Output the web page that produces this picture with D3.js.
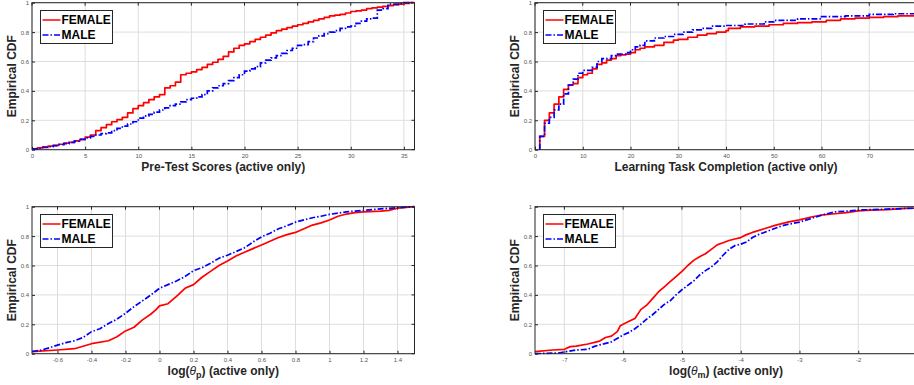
<!DOCTYPE html>
<html>
<head>
<meta charset="utf-8">
<script src="https://cdn.jsdelivr.net/npm/d3@7"></script>
<style>
  html, body { margin: 0; padding: 0; background: #fff; }
  svg { display: block; }
  text { font-family: "Liberation Sans", Arial, Helvetica, sans-serif; }
</style>
</head>
<body>
<svg id="chart" width="914" height="385"></svg>
<script>
// ---- Panel 1: Pre-Test Scores ----
const preTestX = [0,0.5,1,1.5,2,2.5,3,3.5,4,4.5,5,5.5,6,6.5,7,7.5,8,8.5,9,9.5,10,10.5,11,11.5,12,12.5,13,13.5,14,14.5,15,15.5,16,16.5,17,17.5,18,18.5,19,19.5,20,20.5,21,21.5,22,22.5,23,23.5,24,24.5,25,25.5,26,26.5,27,27.5,28,28.5,29,29.5,30,30.5,31,31.5,32,32.5,33,33.5,34,34.5,35,35.5,36];
const preTestFemale = [0.005,0.012,0.02,0.025,0.03,0.037,0.045,0.05,0.06,0.07,0.085,0.10,0.13,0.15,0.17,0.19,0.205,0.22,0.25,0.28,0.30,0.32,0.34,0.36,0.375,0.42,0.435,0.46,0.51,0.52,0.53,0.545,0.56,0.58,0.595,0.615,0.635,0.665,0.69,0.71,0.72,0.735,0.75,0.765,0.78,0.795,0.81,0.82,0.83,0.84,0.85,0.86,0.87,0.88,0.89,0.90,0.91,0.915,0.92,0.93,0.94,0.945,0.95,0.96,0.965,0.97,0.975,0.98,0.985,0.99,0.995,1.0,1.0];
const preTestMale = [0.005,0.01,0.015,0.02,0.028,0.035,0.042,0.05,0.058,0.07,0.08,0.09,0.10,0.11,0.115,0.13,0.145,0.16,0.175,0.19,0.215,0.23,0.24,0.255,0.27,0.285,0.30,0.31,0.325,0.34,0.35,0.36,0.375,0.40,0.42,0.435,0.45,0.47,0.49,0.51,0.535,0.55,0.565,0.59,0.61,0.625,0.64,0.655,0.675,0.69,0.71,0.715,0.735,0.76,0.775,0.79,0.80,0.81,0.825,0.835,0.84,0.86,0.875,0.89,0.895,0.95,0.96,0.99,0.99,0.995,1.0,1.0,1.0];

// ---- Panel 2: Learning Task Completion ----
const taskFemaleX = [1,1,2,3,4,5,6,7,8,9,10,11,12,13,14,15,16,17,18,19,20,21,22,23,25,27,29,30,32,34,36,38,40,40.5,43,46,49,52,55,58,61,64,67,70,73,76,80];
const taskFemale  = [0,0.09,0.20,0.25,0.31,0.36,0.41,0.44,0.45,0.49,0.51,0.52,0.55,0.58,0.59,0.61,0.62,0.64,0.645,0.65,0.66,0.68,0.69,0.70,0.71,0.73,0.745,0.75,0.765,0.78,0.79,0.80,0.81,0.825,0.835,0.84,0.85,0.86,0.865,0.87,0.88,0.89,0.895,0.90,0.905,0.91,0.91];
const taskMaleX = [1,1,2,3,4,5,6,7,8,9,10,12,13,14,16,17,19,20,21,22,23,25,27,29,31,33,35,37,40,44,48,50,55,60,65,70,75,80];
const taskMale  = [0,0.09,0.18,0.22,0.27,0.31,0.38,0.44,0.48,0.52,0.54,0.56,0.60,0.62,0.64,0.65,0.66,0.68,0.70,0.71,0.74,0.76,0.77,0.785,0.80,0.815,0.825,0.84,0.845,0.855,0.87,0.88,0.89,0.905,0.91,0.92,0.925,0.93];

// ---- Panel 3: log(theta_p) ----
const thetaPFemaleX = [-0.75,-0.6,-0.5,-0.4,-0.3,-0.25,-0.2,-0.15,-0.1,-0.05,-0.02,0,0.05,0.1,0.15,0.2,0.25,0.3,0.35,0.4,0.45,0.5,0.55,0.6,0.65,0.7,0.75,0.8,0.85,0.9,0.95,1.0,1.05,1.1,1.15,1.2,1.3,1.35,1.4,1.45,1.5];
const thetaPFemale  = [0.014,0.025,0.034,0.068,0.088,0.115,0.155,0.18,0.23,0.27,0.30,0.325,0.34,0.39,0.445,0.47,0.52,0.56,0.60,0.63,0.665,0.69,0.715,0.74,0.765,0.79,0.81,0.825,0.85,0.875,0.89,0.91,0.935,0.95,0.96,0.965,0.97,0.975,0.99,0.995,1.0];
const thetaPMaleX = [-0.75,-0.7,-0.65,-0.6,-0.55,-0.5,-0.45,-0.4,-0.35,-0.3,-0.25,-0.2,-0.15,-0.1,-0.05,0,0.05,0.1,0.15,0.2,0.25,0.3,0.35,0.4,0.45,0.5,0.55,0.6,0.65,0.7,0.75,0.8,0.85,0.9,0.95,1.0,1.1,1.2,1.3,1.4,1.5];
const thetaPMale  = [0.015,0.023,0.04,0.058,0.075,0.088,0.11,0.15,0.17,0.205,0.235,0.275,0.32,0.36,0.40,0.445,0.47,0.495,0.525,0.565,0.585,0.615,0.65,0.67,0.695,0.72,0.76,0.795,0.82,0.85,0.87,0.895,0.91,0.925,0.935,0.948,0.965,0.975,0.985,0.993,1.0];

// ---- Panel 4: log(theta_m) ----
const thetaMFemaleX = [-7.5,-7.2,-7.0,-6.9,-6.8,-6.6,-6.4,-6.3,-6.2,-6.1,-6.05,-6.0,-5.9,-5.8,-5.7,-5.6,-5.5,-5.4,-5.3,-5.2,-5.1,-5.0,-4.9,-4.8,-4.7,-4.6,-4.5,-4.4,-4.3,-4.2,-4.1,-4.0,-3.9,-3.8,-3.6,-3.4,-3.2,-3.0,-2.8,-2.6,-2.4,-2.2,-2.0,-1.8,-1.5,-1.2,-1.0];
const thetaMFemale  = [0.014,0.025,0.03,0.048,0.052,0.066,0.086,0.11,0.12,0.15,0.19,0.20,0.22,0.24,0.30,0.33,0.375,0.42,0.455,0.49,0.525,0.56,0.60,0.635,0.66,0.68,0.71,0.74,0.755,0.77,0.78,0.79,0.81,0.825,0.85,0.875,0.895,0.91,0.93,0.945,0.952,0.96,0.972,0.977,0.98,0.988,0.99];
const thetaMMaleX = [-7.5,-7.1,-7.0,-6.8,-6.6,-6.5,-6.4,-6.2,-6.0,-5.9,-5.8,-5.7,-5.6,-5.5,-5.4,-5.3,-5.2,-5.1,-5.0,-4.9,-4.8,-4.7,-4.6,-4.5,-4.4,-4.3,-4.2,-4.1,-4.0,-3.9,-3.8,-3.7,-3.6,-3.5,-3.4,-3.3,-3.2,-3.0,-2.8,-2.6,-2.4,-2.2,-2.0,-1.8,-1.5,-1.2,-1.0];
const thetaMMale  = [0.0,0.005,0.012,0.025,0.03,0.048,0.06,0.08,0.127,0.145,0.17,0.20,0.235,0.265,0.30,0.335,0.36,0.40,0.435,0.465,0.495,0.535,0.565,0.59,0.625,0.67,0.71,0.735,0.745,0.76,0.79,0.81,0.825,0.84,0.855,0.87,0.88,0.895,0.92,0.945,0.965,0.97,0.977,0.98,0.984,0.988,0.99];

// ---- Tick labels ----
const yTicks = [0,0.2,0.4,0.6,0.8,1];
const preTestTicks = [0,5,10,15,20,25,30,35];
const taskTicks = [0,10,20,30,40,50,60,70];
const thetaPTicks = [-0.6,-0.4,-0.2,0,0.2,0.4,0.6,0.8,1,1.2,1.4];
const thetaMTicks = [-7,-6,-5,-4,-3,-2];
const seriesNames = ["FEMALE","MALE"];

const FEMALE_COLOR = "#ff0000";
const MALE_COLOR = "#0000ff";
const MALE_DASH = "6,2,1.5,2";
const LINE_W = 1.7;

const svg = d3.select("#chart");

const zip = (xs, ys) => xs.map((x, i) => [x, ys[i]]);

const panels = [
  { box: [32, 414.5, 2.7, 149.7], domain: [0, 36], ticks: preTestTicks,
    female: zip(preTestX, preTestFemale), male: zip(preTestX, preTestMale),
    curve: d3.curveStepAfter, label: [{t: "Pre-Test Scores (active only)"}] },
  { box: [535, 917, 2.7, 149.7], domain: [0, 80], ticks: taskTicks,
    female: zip(taskFemaleX, taskFemale), male: zip(taskMaleX, taskMale),
    curve: d3.curveStepAfter, label: [{t: "Learning Task Completion (active only)"}] },
  { box: [32, 414.5, 206.7, 353.7], domain: [-0.75, 1.5], ticks: thetaPTicks,
    female: zip(thetaPFemaleX, thetaPFemale), male: zip(thetaPMaleX, thetaPMale),
    curve: d3.curveLinear, label: [{t: "log("}, {t: "\u03B8", it: true}, {t: "p", sub: true}, {t: ") (active only)"}] },
  { box: [535, 917, 206.7, 353.7], domain: [-7.5, -1], ticks: thetaMTicks,
    female: zip(thetaMFemaleX, thetaMFemale), male: zip(thetaMMaleX, thetaMMale),
    curve: d3.curveLinear, label: [{t: "log("}, {t: "\u03B8", it: true}, {t: "m", sub: true}, {t: ") (active only)"}] }
];

panels.forEach((p, idx) => {
  const [x0, x1, y0, y1] = p.box;
  const x = d3.scaleLinear().domain(p.domain).range([x0, x1]);
  const y = d3.scaleLinear().domain([0, 1]).range([y1, y0]);
  const g = svg.append("g");
  const clipId = "clip" + idx;
  svg.append("clipPath").attr("id", clipId)
    .append("rect").attr("x", x0).attr("y", y0 - 2).attr("width", x1 - x0).attr("height", y1 - y0 + 3);

  // grid
  g.append("g").selectAll("line").data(p.ticks).join("line")
    .attr("x1", d => x(d)).attr("x2", d => x(d)).attr("y1", y0).attr("y2", y1)
    .attr("stroke", "#dedede").attr("stroke-width", 1);
  g.append("g").selectAll("line").data(yTicks).join("line")
    .attr("x1", x0).attr("x2", x1).attr("y1", d => y(d)).attr("y2", d => y(d))
    .attr("stroke", "#dedede").attr("stroke-width", 1);

  // axes (ticks inward, labels outside)
  const xAxis = d3.axisBottom(x).tickValues(p.ticks).tickSize(-3).tickPadding(4)
    .tickFormat(d => d3.format("~g")(d).replace("\u2212", "-"));
  const gx = g.append("g").attr("transform", `translate(0,${y1})`).call(xAxis);
  const yAxis = d3.axisLeft(y).tickValues(yTicks).tickSize(-3).tickPadding(3)
    .tickFormat(d3.format("~g"));
  const gy = g.append("g").attr("transform", `translate(${x0},0)`).call(yAxis);
  [gx, gy].forEach(a => {
    a.select(".domain").remove();
    a.selectAll(".tick line").attr("stroke", "#262626");
    a.selectAll(".tick text").attr("fill", "#555").style("font-size", "6px")
      .style("font-family", "'Liberation Sans', Arial, sans-serif");
  });
  // top and right tick marks
  g.append("g").selectAll("line").data(p.ticks).join("line")
    .attr("x1", d => x(d)).attr("x2", d => x(d)).attr("y1", y0).attr("y2", y0 + 3)
    .attr("stroke", "#262626");
  g.append("g").selectAll("line").data(yTicks).join("line")
    .attr("x1", x1).attr("x2", x1 - 3).attr("y1", d => y(d)).attr("y2", d => y(d))
    .attr("stroke", "#262626");

  // CDF lines
  const line = d3.line().x(d => x(d[0])).y(d => y(d[1])).curve(p.curve);
  const lines = g.append("g").attr("clip-path", `url(#${clipId})`);
  lines.append("path").datum(p.female).attr("d", line)
    .attr("fill", "none").attr("stroke", FEMALE_COLOR).attr("stroke-width", LINE_W)
    .attr("stroke-linejoin", "round");
  lines.append("path").datum(p.male).attr("d", line)
    .attr("fill", "none").attr("stroke", MALE_COLOR).attr("stroke-width", LINE_W)
    .attr("stroke-dasharray", MALE_DASH);

  // box
  g.append("rect").attr("x", x0).attr("y", y0).attr("width", x1 - x0).attr("height", y1 - y0)
    .attr("fill", "none").attr("stroke", "#262626").attr("stroke-width", 1);

  // y label
  g.append("text")
    .attr("transform", `translate(${x0 - 16},${(y0 + y1) / 2}) rotate(-90)`)
    .attr("text-anchor", "middle").attr("fill", "#262626")
    .style("font-size", "12px").style("font-weight", "bold")
    .text("Empirical CDF");

  // x label
  const xl = g.append("text")
    .attr("x", (x0 + x1) / 2).attr("y", y1 + 21)
    .attr("text-anchor", "middle").attr("fill", "#262626")
    .style("font-size", "12px").style("font-weight", "bold");
  p.label.forEach(part => {
    const ts = xl.append("tspan").text(part.t);
    if (part.it) ts.style("font-style", "italic").style("font-weight", "normal");
    if (part.sub) ts.attr("dy", 3).style("font-size", "9px");
    else if (part.t.startsWith(")")) ts.attr("dy", -3);
  });

  // legend
  const lx = x0 + 8.5, ly = y0 + 7.8;
  const lg = g.append("g");
  lg.append("rect").attr("x", lx).attr("y", ly).attr("width", 72).attr("height", 33)
    .attr("fill", "#fff").attr("stroke", "#262626").attr("stroke-width", 1);
  seriesNames.forEach((name, i) => {
    const cy = ly + 9.5 + i * 15;
    lg.append("line").attr("x1", lx + 2).attr("x2", lx + 20).attr("y1", cy).attr("y2", cy)
      .attr("stroke", i === 0 ? FEMALE_COLOR : MALE_COLOR).attr("stroke-width", 1.5)
      .attr("stroke-dasharray", i === 0 ? null : MALE_DASH);
    lg.append("text").attr("x", lx + 21).attr("y", cy + 4.2)
      .attr("fill", "#000").style("font-size", "12px").style("font-weight", "bold")
      .text(name);
  });
});
</script>
</body>
</html>
